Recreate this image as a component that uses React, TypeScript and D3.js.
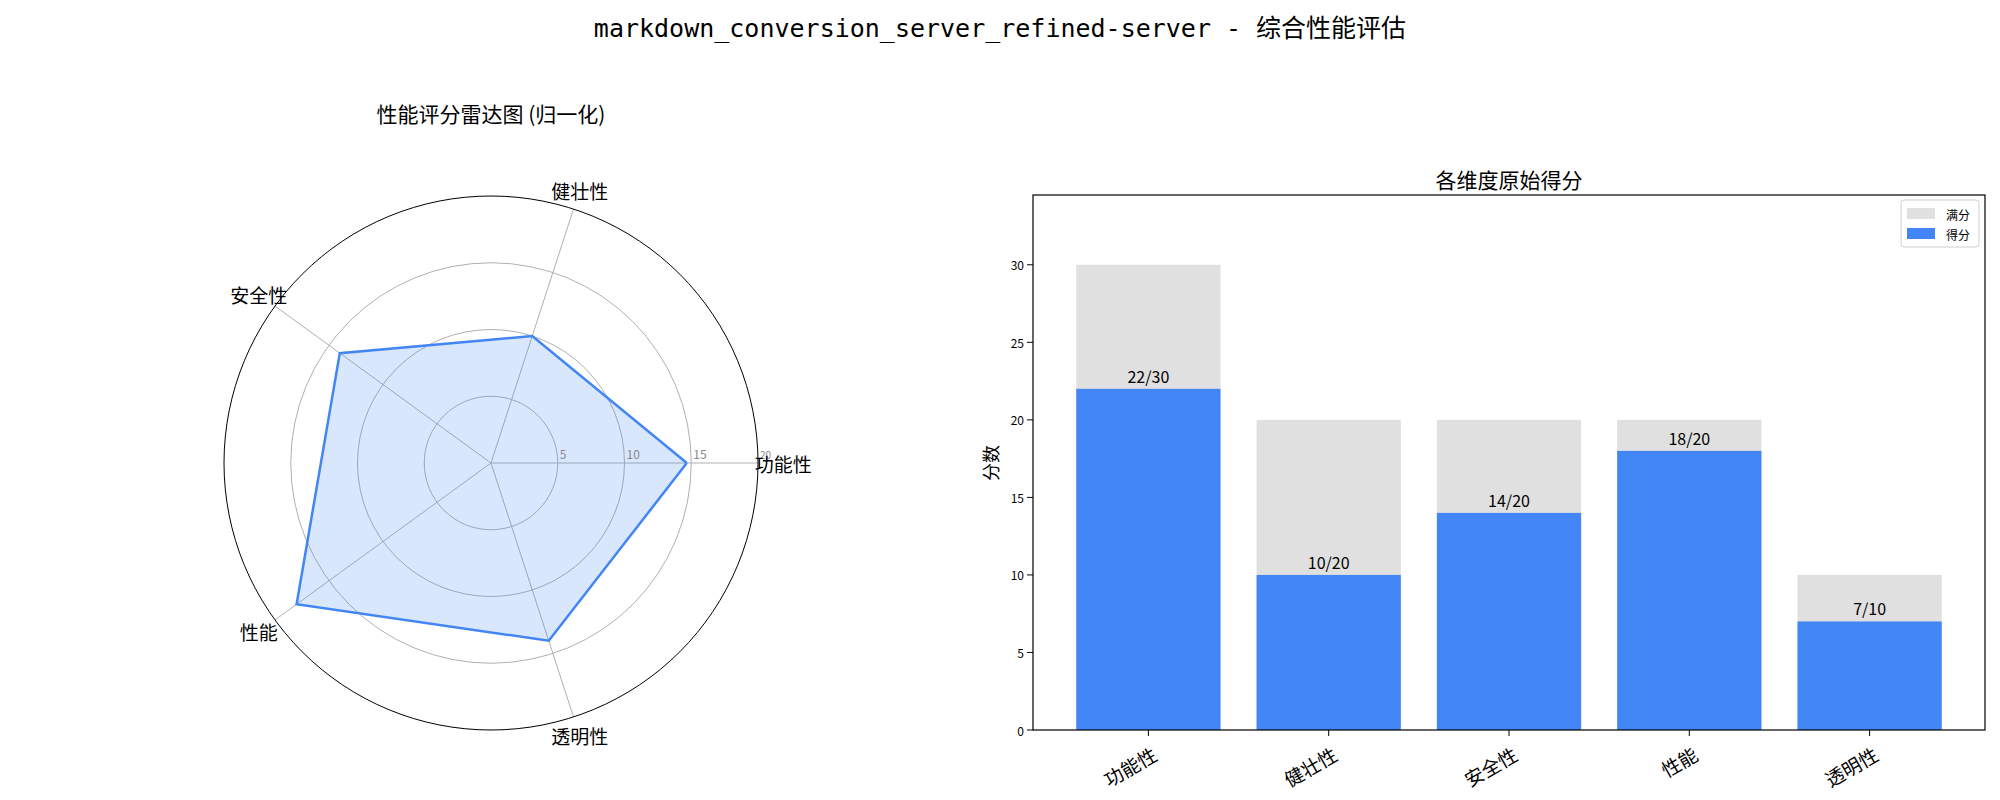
import React from "react";
import * as d3 from "d3";

const categories = ["功能性", "健壮性", "安全性", "性能", "透明性"];
const scores = [22, 10, 14, 18, 7];
const maxScores = [30, 20, 20, 20, 10];
const radarTicks = [5, 10, 15, 20];
const barTicks = [0, 5, 10, 15, 20, 25, 30];

const FONT = "'Noto Sans CJK SC', 'DejaVu Sans', sans-serif";
const BLUE = "#4285F4";

export default function App() {
  const cx = 491, cy = 463, R = 267;
  const r = d3.scaleLinear().domain([0, 20]).range([0, R]);
  const norm = scores.map((s, i) => (s / maxScores[i]) * 20);
  const ang = (i: number) => (i * 2 * Math.PI) / categories.length;
  const pt = (i: number, v: number): [number, number] => [cx + r(v) * Math.cos(ang(i)), cy - r(v) * Math.sin(ang(i))];
  const poly = d3.line()(norm.map((v, i) => pt(i, v)).concat([pt(0, norm[0])])) as string;

  const x = d3.scaleLinear().domain([-0.64, 4.64]).range([1033, 1985]);
  const y = d3.scaleLinear().domain([0, 34.5]).range([730, 195]);
  const bw = x(0.8) - x(0);

  return (
    <svg width={2000} height={800} style={{ display: "block", position: "absolute", left: 0, top: 0, fontFamily: FONT }}>
      <rect width={2000} height={800} fill="white" />
      <text x={1000} y={37} textAnchor="middle" fontSize={25} fontFamily="'DejaVu Sans Mono', 'Noto Sans CJK SC', monospace">
        markdown_conversion_server_refined-server - 综合性能评估
      </text>

      {/* Radar */}
      <text x={491} y={122} textAnchor="middle" fontSize={21}>性能评分雷达图 (归一化)</text>
      {radarTicks.slice(0, 3).map((t) => (
        <circle key={t} cx={cx} cy={cy} r={r(t)} fill="none" stroke="#b0b0b0" strokeWidth={1} />
      ))}
      {categories.map((c, i) => {
        const [px, py] = pt(i, 20);
        return <line key={c} x1={cx} y1={cy} x2={px} y2={py} stroke="#b0b0b0" strokeWidth={1} />;
      })}
      <path d={poly} fill={BLUE} fillOpacity={0.2} stroke={BLUE} strokeWidth={2.5} />
      <circle cx={cx} cy={cy} r={R} fill="none" stroke="black" strokeWidth={1} />
      {radarTicks.map((t) => (
        <text key={t} x={cx + r(t) + 2} y={cy - 4} fontSize={t === 20 ? 10 : 12} fill="#888">{t}</text>
      ))}
      {categories.map((c, i) => {
        const [px, py] = pt(i, i === 0 ? 21.9 : 21.5);
        return (
          <text key={c} x={px} y={py} textAnchor="middle" dominantBaseline="central" fontSize={19}>{c}</text>
        );
      })}

      {/* Bars */}
      <text x={(1033 + 1985) / 2} y={188} textAnchor="middle" fontSize={21}>各维度原始得分</text>
      {categories.map((c, i) => (
        <g key={c}>
          <rect x={x(i) - bw / 2} y={y(maxScores[i])} width={bw} height={y(0) - y(maxScores[i])} fill="#e0e0e0" />
          <rect x={x(i) - bw / 2} y={y(scores[i])} width={bw} height={y(0) - y(scores[i])} fill={BLUE} />
          <text x={x(i)} y={y(scores[i]) - 6} textAnchor="middle" fontSize={16}>{`${scores[i]}/${maxScores[i]}`}</text>
          <line x1={x(i)} x2={x(i)} y1={730} y2={736} stroke="black" />
          <text transform={`translate(${x(i) + 6},${752}) rotate(-30)`} textAnchor="end" dominantBaseline="central" fontSize={19}>{c}</text>
        </g>
      ))}
      {barTicks.map((t) => (
        <g key={t}>
          <line x1={1027} x2={1033} y1={y(t)} y2={y(t)} stroke="black" />
          <text x={1024} y={y(t)} textAnchor="end" dominantBaseline="central" fontSize={12}>{t}</text>
        </g>
      ))}
      <rect x={1033} y={195} width={952} height={535} fill="none" stroke="black" strokeWidth={1.2} />
      <text transform={`translate(998,463) rotate(-90)`} textAnchor="middle" fontSize={18}>分数</text>

      {/* Legend */}
      <rect x={1901} y={200} width={78} height={47} fill="white" stroke="#d0d0d0" rx={3} />
      <rect x={1907} y={208} width={28} height={11} fill="#e0e0e0" />
      <text x={1946} y={214} dominantBaseline="central" fontSize={12}>满分</text>
      <rect x={1907} y={228} width={28} height={11} fill={BLUE} />
      <text x={1946} y={234} dominantBaseline="central" fontSize={12}>得分</text>
    </svg>
  );
}
